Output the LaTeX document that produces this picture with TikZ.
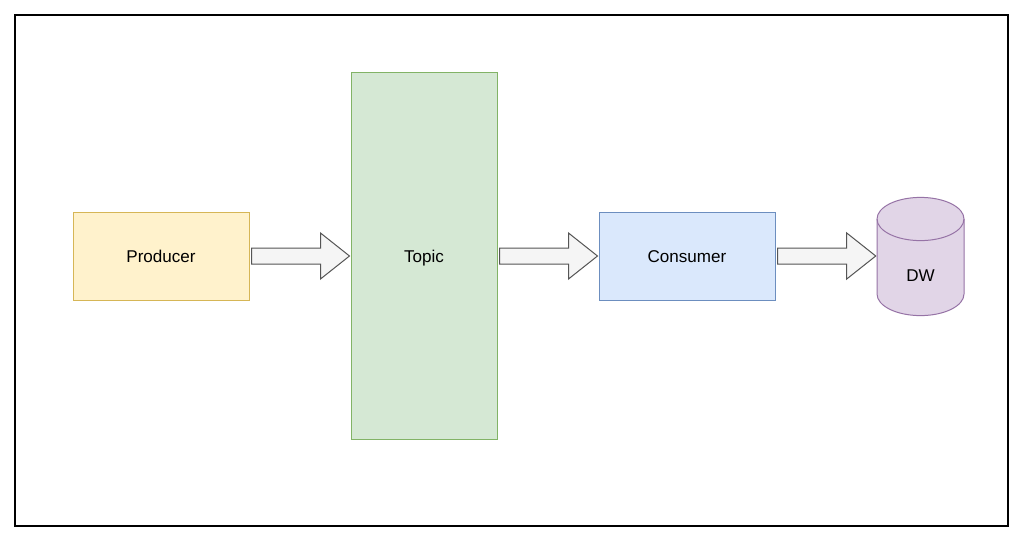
\documentclass[tikz,border=0pt]{standalone}
\usepackage{fontspec}
\setmainfont{Liberation Sans}
\usetikzlibrary{calc}
\definecolor{yfill}{HTML}{FFF2CC}\definecolor{ydraw}{HTML}{D6B656}
\definecolor{gfill}{HTML}{D5E8D4}\definecolor{gdraw}{HTML}{82B366}
\definecolor{bfill}{HTML}{DAE8FC}\definecolor{bdraw}{HTML}{6C8EBF}
\definecolor{pfill}{HTML}{E1D5E7}\definecolor{pdraw}{HTML}{9673A6}
\definecolor{afill}{HTML}{F5F5F5}\definecolor{adraw}{HTML}{555555}
\tikzset{
  box/.style={draw, line width=0.75pt, minimum width=132pt, minimum height=66pt, inner sep=0pt,
    font=\fontsize{12.8}{15}\selectfont, text height=0.97em, text depth=0pt},
  blockarrow/.style={fill=afill, draw=adraw, line width=0.75pt, line join=miter},
}
\newcommand{\blockarr}[2]{%
  \path[blockarrow] ($(#1.east)+(2,8)$) -- ($(#2.west)+(-30,8)$) -- ($(#2.west)+(-30,23)$)
    -- ($(#2.west)+(-1,0)$) -- ($(#2.west)+(-30,-23)$) -- ($(#2.west)+(-30,-8)$)
    -- ($(#1.east)+(2,-8)$) -- cycle;}
\begin{document}
\begin{tikzpicture}[x=0.75pt,y=-0.75pt]
\useasboundingbox (0,0) rectangle (1024,542);
\fill[white] (0,0) rectangle (1024,542);
\node[draw=black, line width=1.2pt, minimum width=744.75pt, minimum height=383.25pt, inner sep=0pt] (frame) at (511.5,270.5) {};
\node[box, fill=yfill, draw=ydraw] (prod) at (161,256) {Producer};
\node[box, fill=gfill, draw=gdraw, minimum width=109.5pt, minimum height=274.5pt] (topic) at (424,256) {Topic};
\node[box, fill=bfill, draw=bdraw] (cons) at (687,256) {Consumer};
\node[inner sep=0pt, minimum width=65.25pt, minimum height=88.5pt] (dw) at (920.5,256) {};
\path[fill=pfill, draw=pdraw, line width=0.75pt] (877,219) -- (877,294)
  arc[start angle=180, end angle=360, x radius=32.625pt, y radius=16.2pt] -- (964,219)
  arc[start angle=0, end angle=180, x radius=32.625pt, y radius=16.2pt] -- cycle;
\draw[draw=pdraw, line width=0.75pt] (877,219) arc[start angle=180, end angle=360, x radius=32.625pt, y radius=16.2pt];
\node[font=\fontsize{12.8}{15}\selectfont, inner sep=0pt, text height=0.97em, text depth=0pt] (dwlabel) at (920.5,275) {DW};
\blockarr{prod}{topic}
\blockarr{topic}{cons}
\blockarr{cons}{dw}
\end{tikzpicture}
\end{document}
